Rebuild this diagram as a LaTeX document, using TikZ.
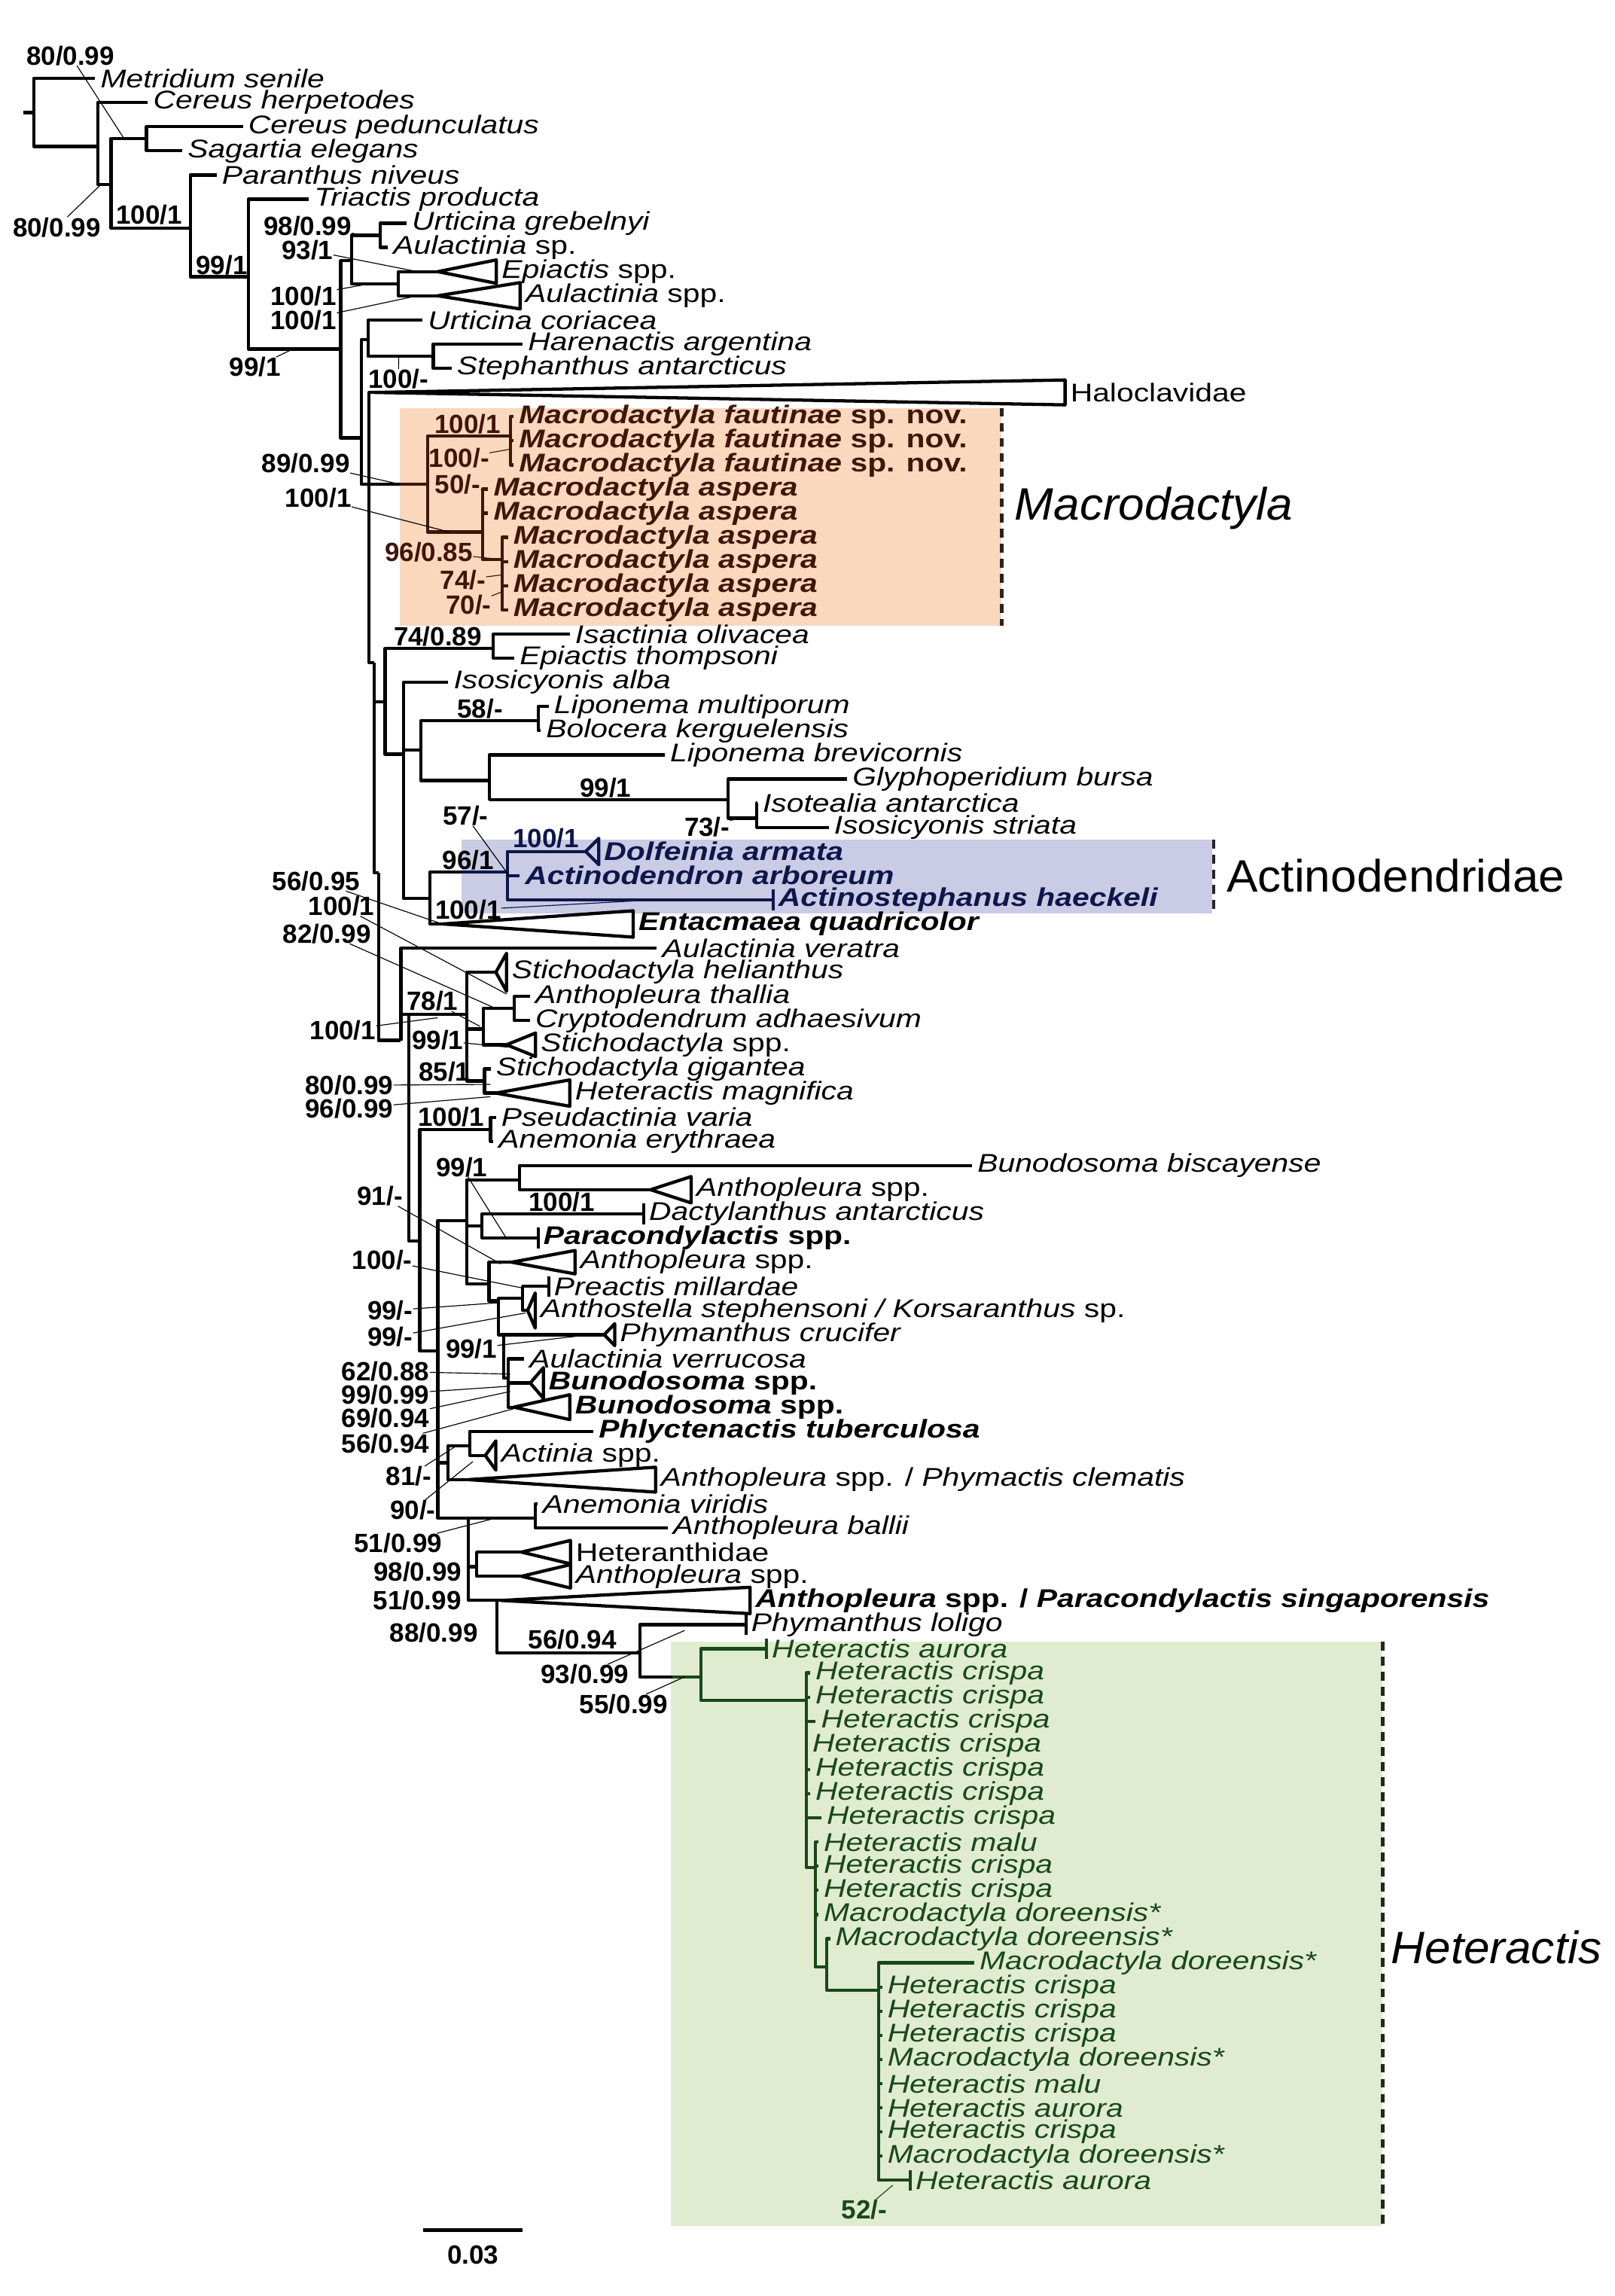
\documentclass[tikz,border=0pt]{standalone}
\usepackage{fontspec}
\setmainfont{Liberation Sans}[FakeStretch=1.2]
\newfontfamily\supfont{Liberation Sans}[FakeStretch=1.0]
\newfontfamily\bigfont{Liberation Sans}[FakeStretch=1.03]
\usetikzlibrary{calc}
\definecolor{macfill}{RGB}{249,216,190}
\definecolor{macink}{RGB}{64,22,10}
\definecolor{actfill}{RGB}{202,203,229}
\definecolor{actink}{RGB}{14,22,74}
\definecolor{hetfill}{RGB}{224,236,208}
\definecolor{hetink}{RGB}{24,72,26}
\definecolor{guide}{RGB}{40,36,36}
\tikzset{
 br/.style={line width=2.2pt, line join=round},
 taxon/.style={anchor=west, inner xsep=3.5pt, inner ysep=0pt, font=\fontsize{17.5}{18}\selectfont\itshape},
 taxb/.style={taxon, font=\fontsize{17.5}{18}\selectfont\bfseries\itshape},
 fam/.style={taxon, font=\fontsize{17.5}{18}\selectfont},
 sup/.style={inner sep=0pt, font=\fontsize{18}{19}\supfont\bfseries},
 lead/.style={line width=0.6pt},
 bracket/.style={draw=guide, line width=2.4pt, dash pattern=on 6pt off 4.3pt},
 biglabel/.style={anchor=west, inner sep=0pt, font=\fontsize{31}{32}\bigfont}
}
\newcommand{\collapse}[4][]{\draw[br,#1] (#2) -- ([yshift=#4]#3.west) -- ([yshift=-#4]#3.west) -- cycle;}
\newcommand{\tipbar}[2][]{\draw[br,#1] ([yshift=7pt]#2.west) -- ([yshift=-7pt]#2.west);}

\begin{document}
\begin{tikzpicture}[x=1pt, y=-16.5pt]

\fill[white] (0,-2.2424) rectangle (1103,92.79);
\useasboundingbox (0,-2.2424) rectangle (1103,92.79);

\fill[macfill] (273.1,14.64) rectangle (684,23.67);
\fill[actfill] (315.3,32.51) rectangle (828,35.55);
\fill[hetfill] (458.4,65.7) rectangle (944,89.9);
\draw[bracket] (684.2,14.64) -- (684.2,23.67);
\draw[bracket] (829,32.51) -- (829,35.55);
\draw[bracket] (944.4,65.7) -- (944.4,89.9);

\node[taxon] (l1) at (65,1) {Metridium senile};
\node[taxon] (l2) at (101,2) {Cereus herpetodes};
\node[taxon] (l3) at (166,3) {Cereus pedunculatus};
\node[taxon] (l4) at (124.5,4) {Sagartia elegans};
\node[taxon] (l5) at (148,5) {Paranthus niveus};
\node[taxon] (l6) at (211,6) {Triactis producta};
\node[taxon] (l7) at (277.7,7) {Urticina grebelnyi};
\node[taxon] (l8) at (265,8) {Aulactinia \textup{sp.}};
\node[taxon] (l9) at (339,9) {Epiactis \textup{spp.}};
\node[taxon] (l10) at (355.3,10) {Aulactinia \textup{spp.}};
\node[taxon] (l11) at (288.6,11) {Urticina coriacea};
\node[taxon] (l12) at (357,12) {Harenactis argentina};
\node[taxon] (l13) at (308.4,13) {Stephanthus antarcticus};
\node[fam] (l14) at (727.5,14) {Haloclavidae};
\node[taxb, text=macink] (l15) at (350.8,15) {Macrodactyla fautinae \textup{sp. nov.}};
\node[taxb, text=macink] (l16) at (350.8,16) {Macrodactyla fautinae \textup{sp. nov.}};
\node[taxb, text=macink] (l17) at (350.8,17) {Macrodactyla fautinae \textup{sp. nov.}};
\node[taxb, text=macink] (l18) at (333.5,18) {Macrodactyla aspera};
\node[taxb, text=macink] (l19) at (333.5,19) {Macrodactyla aspera};
\node[taxb, text=macink] (l20) at (347,20) {Macrodactyla aspera};
\node[taxb, text=macink] (l21) at (347,21) {Macrodactyla aspera};
\node[taxb, text=macink] (l22) at (347,22) {Macrodactyla aspera};
\node[taxb, text=macink] (l23) at (347,23) {Macrodactyla aspera};
\node[taxon] (l24) at (389.2,24) {Isactinia olivacea};
\node[taxon] (l25) at (351.3,25) {Epiactis thompsoni};
\node[taxon] (l26) at (306.2,26) {Isosicyonis alba};
\node[taxon] (l27) at (374.8,27) {Liponema multiporum};
\node[taxon] (l28) at (369.4,28) {Bolocera kerguelensis};
\node[taxon] (l29) at (454.1,29) {Liponema brevicornis};
\node[taxon] (l30) at (578.6,30) {Glyphoperidium bursa};
\node[taxon] (l31) at (517.3,31) {Isotealia antarctica};
\node[taxon] (l32) at (566,32) {Isosicyonis striata};
\node[taxb, text=actink] (l33) at (409,33) {Dolfeinia armata};
\node[taxb, text=actink] (l34) at (355,34) {Actinodendron arboreum};
\node[taxb, text=actink] (l35) at (528,35) {Actinostephanus haeckeli};
\node[taxb] (l36) at (432.5,36) {Entacmaea quadricolor};
\node[taxon] (l37) at (448.7,37) {Aulactinia veratra};
\node[taxon] (l38) at (346,38) {Stichodactyla helianthus};
\node[taxon] (l39) at (362,39) {Anthopleura thallia};
\node[taxon] (l40) at (362,40) {Cryptodendrum adhaesivum};
\node[taxon] (l41) at (365.8,41) {Stichodactyla \textup{spp.}};
\node[taxon] (l42) at (335.1,42) {Stichodactyla gigantea};
\node[taxon] (l43) at (389.2,43) {Heteractis magnifica};
\node[taxon] (l44) at (338.7,44) {Pseudactinia varia};
\node[taxon] (l45) at (337,45) {Anemonia erythraea};
\node[taxon] (l46) at (664,46) {Bunodosoma biscayense};
\node[taxon] (l47) at (472.1,47) {Anthopleura \textup{spp.}};
\node[taxon] (l48) at (439.7,48) {Dactylanthus antarcticus};
\node[taxb] (l49) at (367.6,49) {Paracondylactis \textup{spp.}};
\node[taxon] (l50) at (392.8,50) {Anthopleura \textup{spp.}};
\node[taxon] (l51) at (374.8,51) {Preactis millardae};
\node[taxon] (l52) at (365.6,52) {Anthostella stephensoni / Korsaranthus \textup{sp.}};
\node[taxon] (l53) at (419.9,53) {Phymanthus crucifer};
\node[taxon] (l54) at (358,54) {Aulactinia verrucosa};
\node[taxb] (l55) at (371.2,55) {Bunodosoma \textup{spp.}};
\node[taxb] (l56) at (389.2,56) {Bunodosoma \textup{spp.}};
\node[taxb] (l57) at (405.4,57) {Phlyctenactis tuberculosa};
\node[taxon] (l58) at (338.7,58) {Actinia \textup{spp.}};
\node[taxon] (l59) at (447.8,59) {Anthopleura \textup{spp. /} Phymactis clematis};
\node[taxon] (l60) at (367,60) {Anemonia viridis};
\node[taxon] (l61) at (456,61) {Anthopleura ballii};
\node[fam] (l62) at (389.7,62) {Heteranthidae};
\node[taxon] (l63) at (389.7,63) {Anthopleura \textup{spp.}};
\node[taxb] (l64) at (512.3,64) {Anthopleura \textup{spp. /} Paracondylactis singaporensis};
\node[taxon] (l65) at (509.5,65) {Phymanthus loligo};
\node[taxon, text=hetink] (l66) at (523.5,66) {Heteractis aurora};
\node[taxon, text=hetink] (l67) at (553.3,67) {Heteractis crispa};
\node[taxon, text=hetink] (l68) at (553.3,68) {Heteractis crispa};
\node[taxon, text=hetink] (l69) at (557.2,69) {Heteractis crispa};
\node[taxon, text=hetink] (l70) at (551.3,70) {Heteractis crispa};
\node[taxon, text=hetink] (l71) at (553.3,71) {Heteractis crispa};
\node[taxon, text=hetink] (l72) at (553.3,72) {Heteractis crispa};
\node[taxon, text=hetink] (l73) at (561,73) {Heteractis crispa};
\node[taxon, text=hetink] (l74) at (559,74) {Heteractis malu};
\node[taxon, text=hetink] (l75) at (559,75) {Heteractis crispa};
\node[taxon, text=hetink] (l76) at (559,76) {Heteractis crispa};
\node[taxon, text=hetink] (l77) at (559,77) {Macrodactyla doreensis*};
\node[taxon, text=hetink] (l78) at (567,78) {Macrodactyla doreensis*};
\node[taxon, text=hetink] (l79) at (665.4,79) {Macrodactyla doreensis*};
\node[taxon, text=hetink] (l80) at (602.5,80) {Heteractis crispa};
\node[taxon, text=hetink] (l81) at (602.5,81) {Heteractis crispa};
\node[taxon, text=hetink] (l82) at (602.5,82) {Heteractis crispa};
\node[taxon, text=hetink] (l83) at (602.5,83) {Macrodactyla doreensis*};
\node[taxon, text=hetink] (l84) at (602.5,84) {Heteractis malu};
\node[taxon, text=hetink] (l85) at (602.5,85) {Heteractis aurora};
\node[taxon, text=hetink] (l86) at (602.5,86) {Heteractis crispa};
\node[taxon, text=hetink] (l87) at (602.5,87) {Macrodactyla doreensis*};
\node[taxon, text=hetink] (l88) at (621.7,88) {Heteractis aurora};

\coordinate (root) at (16,2.42);
\coordinate (n0) at (23,2.42);
\coordinate (nA) at (66.7,3.82);
\coordinate (nB) at (75.8,5.39);
\coordinate (nC) at (100,3.5);
\coordinate (nD) at (130,7.2);
\coordinate (nE) at (169.6,9.21);
\coordinate (nF) at (232.7,12.2);
\coordinate (nG) at (240,8.55);
\coordinate (nG1) at (259.7,7.5);
\coordinate (nG2) at (272,9.5);
\coordinate (a9) at (299,9);
\coordinate (a10) at (299,10);
\coordinate (nK) at (246.7,15.88);
\coordinate (nH) at (251.4,11.82);
\coordinate (nH2) at (296,12.5);
\coordinate (nM) at (252,17.8);
\coordinate (a14) at (256,14);
\coordinate (mb) at (273.1,17.8);
\coordinate (nMac) at (292,17.8);
\coordinate (nFau) at (348.5,15.8);
\coordinate (nAsp1) at (329.6,19.78);
\coordinate (nAsp2) at (342.9,20.92);
\coordinate (nN) at (255.7,25.18);
\coordinate (nO) at (263,26.8);
\coordinate (nIs) at (337,24.6);
\coordinate (nP) at (275.6,28.97);
\coordinate (nQ) at (287.5,28.8);
\coordinate (nLip) at (367.6,27.58);
\coordinate (nS) at (334.4,30.06);
\coordinate (nT) at (497.4,30.85);
\coordinate (nU) at (517,31.62);
\coordinate (nR) at (293.6,34.95);
\coordinate (rb) at (315.3,33.86);
\coordinate (nV) at (346.6,33.86);
\coordinate (a33) at (400,33);
\coordinate (a36) at (302.6,36);
\coordinate (nW) at (258.5,33.88);
\coordinate (nY) at (273.8,40.82);
\coordinate (nX0) at (279.2,39.73);
\coordinate (nX) at (318.9,39.73);
\coordinate (a38) at (338.7,38);
\coordinate (nX2) at (330,40.35);
\coordinate (nX3) at (351.3,39.5);
\coordinate (a41) at (346,41);
\coordinate (nX4) at (331,42.5);
\coordinate (a43) at (338.7,43);
\coordinate (nZ) at (286.7,49.12);
\coordinate (nPs) at (335.1,44.5);
\coordinate (nBig) at (299,53.68);
\coordinate (nC99) at (318.7,48.28);
\coordinate (nBb) at (354.9,46.6);
\coordinate (a47) at (444.4,47);
\coordinate (nDac) at (329.3,48.5);
\coordinate (nC3) at (334,50.9);
\coordinate (a50) at (349.5,50);
\coordinate (nC4) at (340.5,51.6);
\coordinate (nPre) at (357,51.5);
\coordinate (a52) at (360.4,52);
\coordinate (nC5) at (344,53);
\coordinate (a53) at (412.7,53);
\coordinate (nBun) at (347,54.8);
\coordinate (a55) at (362.2,55);
\coordinate (a56) at (351,56);
\coordinate (nPh0) at (305.9,58.3);
\coordinate (nPhl) at (320.8,57.6);
\coordinate (a58) at (331.5,58);
\coordinate (a59) at (320,59);
\coordinate (nL1) at (320,60.6);
\coordinate (nAnv) at (365.6,60.6);
\coordinate (nHet) at (325.6,62.6);
\coordinate (a62) at (356.2,62);
\coordinate (a63) at (356.2,63);
\coordinate (nL2) at (339.5,64);
\coordinate (a64) at (342.3,64);
\coordinate (nPl) at (437,66.17);
\coordinate (gb) at (459.4,67.16);
\coordinate (hA) at (478.9,67.16);
\coordinate (hB) at (550.8,68.14);
\coordinate (hC) at (556.8,75.05);
\coordinate (hD) at (564.6,79.16);
\coordinate (hE) at (600,80.14);

\draw[br] (root) -- (n0);
\draw[br] (n0) |- (l1.west) (n0) |- (nA);
\draw[br] (nA) |- (l2.west) (nA) |- (nB);
\draw[br] (nB) |- (nC) (nB) |- (nD);
\draw[br] (nC) |- (l3.west) (nC) |- (l4.west);
\draw[br] (nD) |- (l5.west) (nD) |- (nE);
\draw[br] (nE) |- (l6.west) (nE) |- (nF);
\draw[br] (nF) |- (nG) (nF) |- (nK);
\draw[br] (nG) |- (nG1) (nG) |- (nG2);
\draw[br] (nG1) |- (l7.west) (nG1) |- (l8.west);
\draw[br] (nG2) |- (a9) (nG2) |- (a10);
\draw[br] (nK) |- (nH) (nK) |- (nM);
\draw[br] (nH) |- (l11.west) (nH) |- (nH2);
\draw[br] (nH2) |- (l12.west) (nH2) |- (l13.west);
\draw[br] (nM) |- (a14) (nM) |- (mb) (nM) |- (nN);
\draw[br,macink] (mb) -- (nMac);
\draw[br,macink] (nMac) |- (nFau) (nMac) |- (nAsp1);
\draw[br,macink] (nFau) |- (l15.west) (nFau) |- (l16.west) (nFau) |- (l17.west);
\draw[br,macink] (nAsp1) |- (l18.west) (nAsp1) |- (l19.west) (nAsp1) |- (nAsp2);
\draw[br,macink] (nAsp2) |- (l20.west) (nAsp2) |- (l21.west) (nAsp2) |- (l22.west) (nAsp2) |- (l23.west);
\draw[br] (nN) |- (nO) (nN) |- (nW);
\draw[br] (nO) |- (nIs) (nO) |- (nP);
\draw[br] (nIs) |- (l24.west) (nIs) |- (l25.west);
\draw[br] (nP) |- (l26.west) (nP) |- (nQ) (nP) |- (nR);
\draw[br] (nQ) |- (nLip) (nQ) |- (nS);
\draw[br] (nLip) |- (l27.west) (nLip) |- (l28.west);
\draw[br] (nS) |- (l29.west) (nS) |- (nT);
\draw[br] (nT) |- (l30.west) (nT) |- (nU);
\draw[br] (nU) |- (l31.west) (nU) |- (l32.west);
\draw[br] (nR) |- (rb) (nR) |- (a36);
\draw[br,actink] (rb) -- (nV);
\draw[br,actink] (nV) |- (a33) (nV) |- (l34.west) (nV) |- (l35.west);
\draw[br] (nW) |- (nY);
\draw[br] (nY) |- (l37.west) (nY) |- (nX0);
\draw[br] (nX0) |- (nX) (nX0) |- (nZ);
\draw[br] (nX) |- (a38) (nX) |- (nX2) (nX) |- (nX4);
\draw[br] (nX2) |- (nX3) (nX2) |- (a41);
\draw[br] (nX3) |- (l39.west) (nX3) |- (l40.west);
\draw[br] (nX4) |- (l42.west) (nX4) |- (a43);
\draw[br] (nZ) |- (nPs) (nZ) |- (nBig);
\draw[br] (nPs) |- (l44.west) (nPs) |- (l45.west);
\draw[br] (nBig) |- (nC99) (nBig) |- (nPh0) (nBig) |- (nL1);
\draw[br] (nC99) |- (nBb) (nC99) |- (nDac) (nC99) |- (nC3);
\draw[br] (nBb) |- (l46.west) (nBb) |- (a47);
\draw[br] (nDac) |- (l48.west) (nDac) |- (l49.west);
\draw[br] (nC3) |- (a50) (nC3) |- (nC4);
\draw[br] (nC4) |- (nPre) (nC4) |- (nC5);
\draw[br] (nPre) |- (l51.west) (nPre) |- (a52);
\draw[br] (nC5) |- (a53) (nC5) |- (nBun);
\draw[br] (nBun) |- (l54.west) (nBun) |- (a55) (nBun) |- (a56);
\draw[br] (nPh0) |- (nPhl) (nPh0) |- (a59);
\draw[br] (nPhl) |- (l57.west) (nPhl) |- (a58);
\draw[br] (nL1) |- (nAnv) (nL1) |- (nHet) (nL1) |- (nL2);
\draw[br] (nAnv) |- (l60.west) (nAnv) |- (l61.west);
\draw[br] (nHet) |- (a62) (nHet) |- (a63);
\draw[br] (nL2) |- (a64) (nL2) |- (nPl);
\draw[br] (nPl) |- (l65.west) (nPl) |- (gb);
\draw[br,hetink] (gb) -- (hA);
\draw[br,hetink] (hA) |- (l66.west) (hA) |- (hB);
\draw[br,hetink] (hB) |- (l67.west) (hB) |- (l68.west) (hB) |- (l69.west) (hB) |- (l70.west) (hB) |- (l71.west) (hB) |- (l72.west) (hB) |- (l73.west) (hB) |- (hC);
\draw[br,hetink] (hC) |- (l74.west) (hC) |- (l75.west) (hC) |- (l76.west) (hC) |- (l77.west) (hC) |- (hD);
\draw[br,hetink] (hD) |- (l78.west) (hD) |- (hE);
\draw[br,hetink] (hE) |- (l79.west) (hE) |- (l80.west) (hE) |- (l81.west) (hE) |- (l82.west) (hE) |- (l83.west) (hE) |- (l84.west) (hE) |- (l85.west) (hE) |- (l86.west) (hE) |- (l87.west) (hE) |- (l88.west);

\collapse{a9}{l9}{8pt}
\collapse{a10}{l10}{9pt}
\collapse{a14}{l14}{8.5pt}
\collapse[actink]{a33}{l33}{9pt}
\collapse{a36}{l36}{9pt}
\collapse{a38}{l38}{13pt}
\collapse{a41}{l41}{8pt}
\collapse{a43}{l43}{9pt}
\collapse{a47}{l47}{9pt}
\collapse{a50}{l50}{8pt}
\collapse{a52}{l52}{12pt}
\collapse{a53}{l53}{7.5pt}
\collapse{a55}{l55}{10.5pt}
\collapse{a56}{l56}{8.5pt}
\collapse{a58}{l58}{10pt}
\collapse{a59}{l59}{8.5pt}
\collapse{a62}{l62}{8pt}
\collapse{a63}{l63}{8pt}
\collapse{a64}{l64}{9pt}
\tipbar[actink]{l35}
\tipbar{l48}
\tipbar{l49}
\tipbar{l51}
\tipbar{l65}
\tipbar[hetink]{l66}
\tipbar[hetink]{l88}

\node[sup] (s1) at (48.1,0.06) {80/0.99};
\node[sup] (s2) at (38.8,7.16) {80/0.99};
\node[sup] (s3) at (101.9,6.66) {100/1};
\node[sup] (s4) at (151.5,8.72) {99/1};
\node[sup] (s5) at (174.3,12.95) {99/1};
\node[sup] (s6) at (210.1,7.1) {98/0.99};
\node[sup] (s7) at (210,8.1) {93/1};
\node[sup] (s8) at (207.4,10.0) {100/1};
\node[sup] (s9) at (207.4,11.0) {100/1};
\node[sup] (s10) at (272.2,13.45) {100/-};
\node[sup, text=macink] (s11) at (319.3,15.3) {100/1};
\node[sup, text=macink] (s12) at (313.6,16.72) {100/-};
\node[sup, text=macink] (s13) at (312.7,17.8) {50/-};
\node[sup] (s14) at (208.9,16.92) {89/0.99};
\node[sup] (s15) at (217.4,18.38) {100/1};
\node[sup, text=macink] (s16) at (292.9,20.6) {96/0.85};
\node[sup, text=macink] (s17) at (316.3,21.76) {74/-};
\node[sup, text=macink] (s18) at (320,22.8) {70/-};
\node[sup] (s19) at (299,24.1) {74/0.89};
\node[sup] (s20) at (327.9,27.1) {58/-};
\node[sup] (s21) at (413.6,30.35) {99/1};
\node[sup] (s22) at (483,31.99) {73/-};
\node[sup] (s23) at (318,31.52) {57/-};
\node[sup] (s24) at (319.8,33.35) {96/1};
\node[sup, text=actink] (s25) at (373,32.45) {100/1};
\node[sup] (s26) at (319.8,35.42) {100/1};
\node[sup] (s27) at (216,34.22) {56/0.95};
\node[sup] (s28) at (233.2,35.26) {100/1};
\node[sup] (s29) at (223.3,36.4) {82/0.99};
\node[sup] (s30) at (234.2,40.4) {100/1};
\node[sup] (s31) at (295.4,39.2) {78/1};
\node[sup] (s32) at (299,40.82) {99/1};
\node[sup] (s33) at (303.5,42.1) {85/1};
\node[sup] (s34) at (238.5,42.68) {80/0.99};
\node[sup] (s35) at (238.5,43.64) {96/0.99};
\node[sup] (s36) at (308,44.0) {100/1};
\node[sup] (s37) at (315.4,46.06) {99/1};
\node[sup] (s38) at (383.7,47.5) {100/1};
\node[sup] (s39) at (259.5,47.26) {91/-};
\node[sup] (s40) at (261,49.9) {100/-};
\node[sup] (s41) at (266.5,52) {99/-};
\node[sup] (s42) at (266.5,53.1) {99/-};
\node[sup] (s43) at (322,53.57) {99/1};
\node[sup] (s44) at (263.3,54.52) {62/0.88};
\node[sup] (s45) at (263.3,55.48) {99/0.99};
\node[sup] (s46) at (263.3,56.46) {69/0.94};
\node[sup] (s47) at (263.3,57.5) {56/0.94};
\node[sup] (s48) at (279.3,58.86) {81/-};
\node[sup] (s49) at (282,60.25) {90/-};
\node[sup] (s50) at (272,61.64) {51/0.99};
\node[sup] (s51) at (285.2,62.8) {98/0.99};
\node[sup] (s52) at (285,63.99) {51/0.99};
\node[sup] (s53) at (296.3,65.34) {88/0.99};
\node[sup] (s54) at (391,65.6) {56/0.94};
\node[sup] (s55) at (399.5,67.06) {93/0.99};
\node[sup] (s56) at (426,68.3) {55/0.99};
\node[sup, text=hetink] (s57) at (590.3,89.2) {52/-};

\coordinate (s1t) at (84.8,3.5);
\coordinate (s2t) at (68.5,5.42);
\coordinate (s5t) at (200.2,12.2);
\coordinate (s6t) at (249,7.5);
\coordinate (s7t) at (285,9);
\coordinate (s8t) at (252.5,9.5);
\coordinate (s9t) at (285,10);
\coordinate (s10t) at (272.3,12.5);
\coordinate (s12t) at (348.5,16.35);
\coordinate (s13t) at (331.5,18.06);
\coordinate (s14t) at (273,17.8);
\coordinate (s15t) at (307,19.78);
\coordinate (s16t) at (342.9,20.92);
\coordinate (s17t) at (342.9,21.55);
\coordinate (s18t) at (342.9,22.25);
\coordinate (s22t) at (504.6,31.62);
\coordinate (s23t) at (347.7,34);
\coordinate (s26t) at (432.5,35.05);
\coordinate (s27t) at (304.4,36.05);
\coordinate (s28t) at (346,38.9);
\coordinate (s29t) at (338.7,39.5);
\coordinate (s30t) at (299,39.88);
\coordinate (s31t) at (327.9,40.24);
\coordinate (s32t) at (346.9,41.1);
\coordinate (s34t) at (335,42.64);
\coordinate (s35t) at (335,43.15);
\coordinate (s37t) at (346.4,49.06);
\coordinate (s39t) at (342,50.07);
\coordinate (s40t) at (357,51.07);
\coordinate (s41t) at (340,51.68);
\coordinate (s42t) at (359,52.1);
\coordinate (s43t) at (393,53.07);
\coordinate (s44t) at (348.5,54.63);
\coordinate (s45t) at (348.5,55.13);
\coordinate (s46t) at (348.5,55.35);
\coordinate (s47t) at (350.6,56.07);
\coordinate (s48t) at (312.3,57.58);
\coordinate (s49t) at (323,58.25);
\coordinate (s50t) at (337.9,60.6);
\coordinate (s55t) at (467.7,65.24);
\coordinate (s56t) at (467.7,67.16);
\coordinate (s57t) at (609.9,88.2);

\draw[lead] (s1) -- (s1t);
\draw[lead] (s2) -- (s2t);
\draw[lead] (s5) -- (s5t);
\draw[lead] (s6) -- (s6t);
\draw[lead] (s7) -- (s7t);
\draw[lead] (s8) -- (s8t);
\draw[lead] (s9) -- (s9t);
\draw[lead] (s10) -- (s10t);
\draw[lead, macink] (s12) -- (s12t);
\draw[lead, macink] (s13) -- (s13t);
\draw[lead] (s14) -- (s14t);
\draw[lead] (s15) -- (s15t);
\draw[lead, macink] (s16) -- (s16t);
\draw[lead, macink] (s17) -- (s17t);
\draw[lead, macink] (s18) -- (s18t);
\draw[lead] (s22) -- (s22t);
\draw[lead] (s23) -- (s23t);
\draw[lead, actink] (s26) -- (s26t);
\draw[lead] (s27) -- (s27t);
\draw[lead] (s28) -- (s28t);
\draw[lead] (s29) -- (s29t);
\draw[lead] (s30) -- (s30t);
\draw[lead] (s31) -- (s31t);
\draw[lead] (s32) -- (s32t);
\draw[lead] (s34) -- (s34t);
\draw[lead] (s35) -- (s35t);
\draw[lead] (s37) -- (s37t);
\draw[lead] (s39) -- (s39t);
\draw[lead] (s40) -- (s40t);
\draw[lead] (s41) -- (s41t);
\draw[lead] (s42) -- (s42t);
\draw[lead] (s43) -- (s43t);
\draw[lead] (s44) -- (s44t);
\draw[lead] (s45) -- (s45t);
\draw[lead] (s46) -- (s46t);
\draw[lead] (s47) -- (s47t);
\draw[lead] (s48) -- (s48t);
\draw[lead] (s49) -- (s49t);
\draw[lead] (s50) -- (s50t);
\draw[lead] (s55) -- (s55t);
\draw[lead] (s56) -- (s56t);
\draw[lead, hetink] (s57) -- (s57t);

\node[biglabel] (macl) at (693,18.79) {\itshape Macrodactyla};
\node[biglabel] (actl) at (837.8,34) {Actinodendridae};
\node[biglabel] (hetl) at (950,78.36) {\itshape Heteractis};

\coordinate (sb1) at (289,90.06);
\coordinate (sb2) at (357,90.06);
\draw[br] (sb1) -- (sb2);
\node[sup] (sbl) at (323,91.1) {0.03};

\end{tikzpicture}
\end{document}
